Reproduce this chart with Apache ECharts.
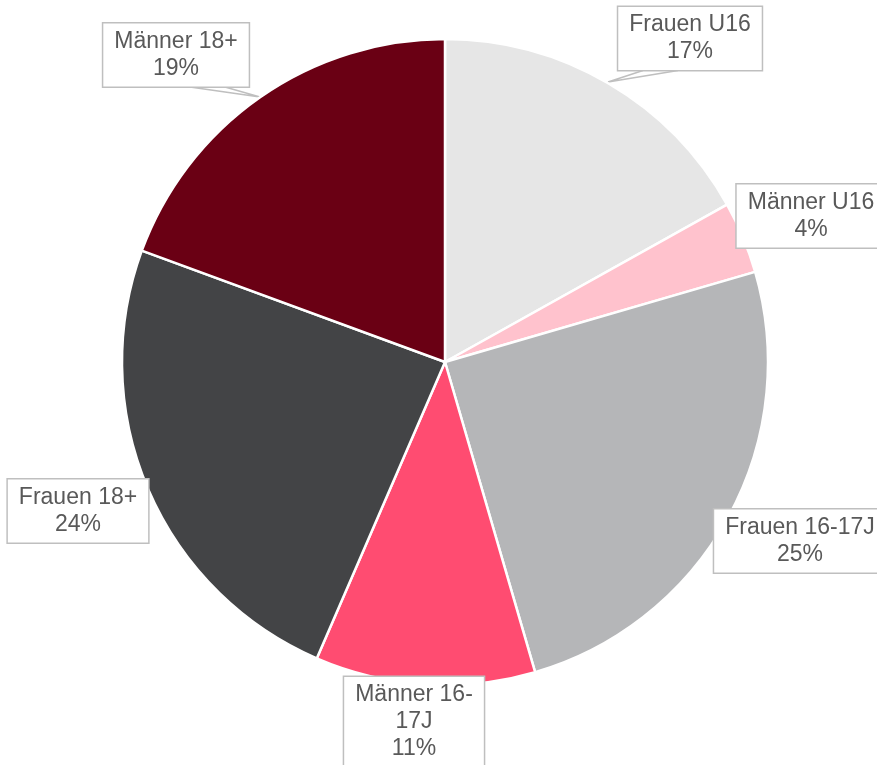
<!DOCTYPE html>
<html>
<head>
<meta charset="utf-8">
<script src="https://cdn.jsdelivr.net/npm/echarts@6/dist/echarts.min.js"></script>
<style>html,body{margin:0;padding:0;background:#fff;}#c{width:877px;height:765px;}</style>
</head>
<body>
<div id="c"></div>
<script>
const categories = ['Frauen U16', 'Männer U16', 'Frauen 16-17J', 'Männer 16-17J', 'Frauen 18+', 'Männer 18+'];
const values = [16.9, 3.6, 25.0, 11.0, 24.1, 19.4];
const colors = ['#e6e6e6', '#ffc2cd', '#b5b6b8', '#ff4c71', '#434446', '#6a0014'];

// label box centres and callout wedges (layout only)
const labelPos = [[690, 38.5], [811, 216], [800, 541], [414, 722], [78, 511], [176, 55]];
const wedges = {
  0: [[643, 70.5], [608, 82], [678, 70.5]],
  5: [[190, 87], [260, 97], [225, 87]]
};

const chart = echarts.init(document.getElementById('c'));
chart.setOption({
  animation: false,
  backgroundColor: '#ffffff',
  series: [{
    type: 'pie',
    center: [445, 362],
    radius: [0, 323],
    startAngle: 90,
    clockwise: true,
    avoidLabelOverlap: false,
    itemStyle: { borderColor: '#ffffff', borderWidth: 2.5 },
    label: {
      show: true,
      position: 'outside',
      formatter: function (p) {
        const n = p.name.replace('Männer 16-', 'Männer 16-\n');
        return n + '\n' + Math.round(p.percent) + '%';
      },
      fontFamily: 'Liberation Sans, Arial, sans-serif',
      fontSize: 23,
      lineHeight: 27,
      color: '#595959',
      align: 'center',
      backgroundColor: '#ffffff',
      borderColor: '#bfbfbf',
      borderWidth: 1.5,
      padding: [5, 11, 4, 11]
    },
    labelLine: { show: true, lineStyle: { color: '#bfbfbf', width: 1.5 }, smooth: false },
    labelLayout: function (params) {
      const i = params.dataIndex;
      const pos = labelPos[i];
      const r = { x: pos[0], y: pos[1], align: 'center', verticalAlign: 'middle' };
      r.labelLinePoints = wedges[i] || [[pos[0], pos[1]], [pos[0], pos[1]], [pos[0], pos[1]]];
      return r;
    },
    emphasis: { disabled: true },
    data: categories.map((c, i) => ({
      name: c,
      value: values[i],
      itemStyle: { color: colors[i] },
      labelLine: { show: !!wedges[i] }
    }))
  }]
});
</script>
</body>
</html>
